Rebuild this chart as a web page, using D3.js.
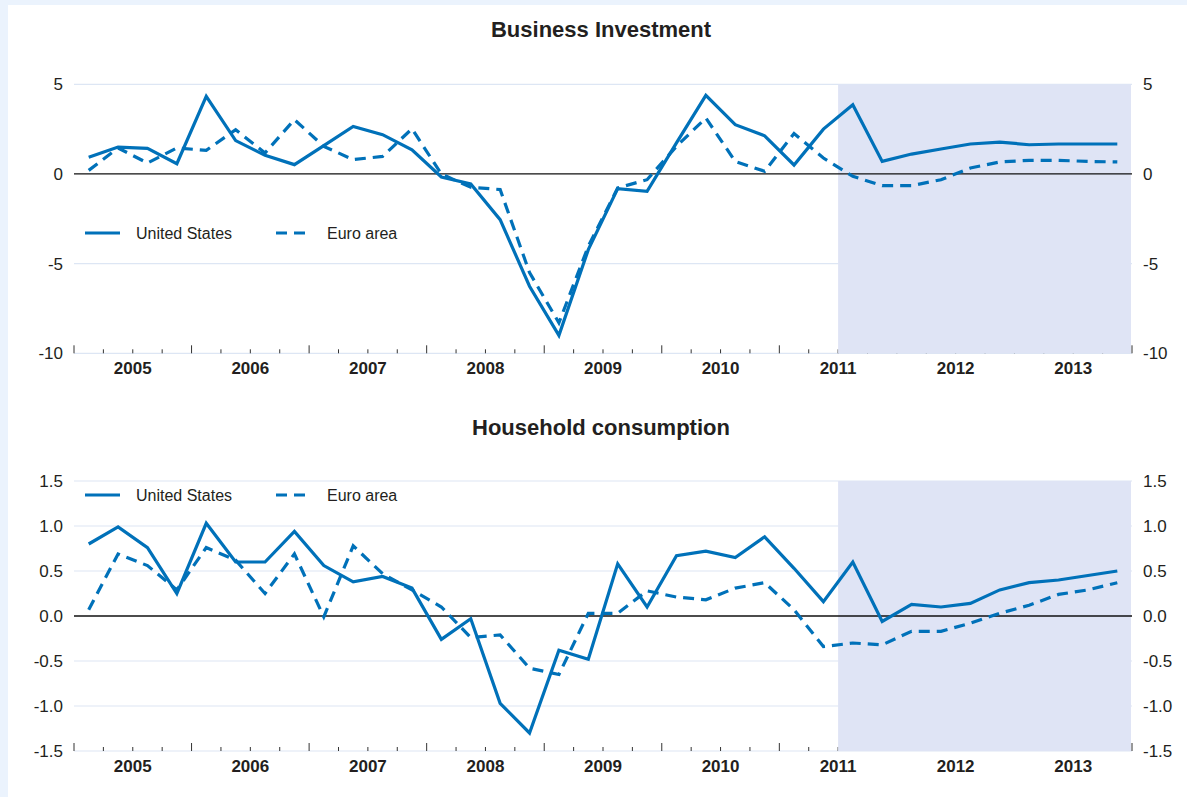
<!DOCTYPE html>
<html>
<head>
<meta charset="utf-8">
<script src="https://cdn.jsdelivr.net/npm/d3@7"></script>
<style>
  body { margin: 0; background: #ebf3fd; }
  svg { display: block; font-family: "Liberation Sans", Arial, sans-serif; }
</style>
</head>
<body>
<svg id="chart"></svg>
<script>
// Chart size
const width = 1187;
const height = 797;

// Quarterly data 2005Q1 - 2013Q4
const years = ["2005", "2006", "2007", "2008", "2009", "2010", "2011", "2012", "2013"];

const investUS = [0.93, 1.5, 1.43, 0.57, 4.33, 1.86, 1.04, 0.52, 1.58, 2.65, 2.19, 1.35,
  -0.17, -0.56, -2.55, -6.26, -9.0, -4.22, -0.82, -0.97, 1.73, 4.38, 2.75, 2.13,
  0.5, 2.5, 3.86, 0.7, 1.11, 1.39, 1.67, 1.78, 1.63, 1.67, 1.67, 1.67];
const investEA = [0.2, 1.45, 0.61, 1.45, 1.32, 2.47, 1.17, 3.03, 1.54, 0.8, 0.98, 2.52,
  0.0, -0.74, -0.87, -5.5, -8.3, -4.03, -0.78, -0.32, 1.54, 3.12, 0.7, 0.15,
  2.25, 0.89, -0.13, -0.65, -0.65, -0.32, 0.33, 0.67, 0.76, 0.76, 0.7, 0.67];

const consUS = [0.8, 0.99, 0.76, 0.25, 1.03, 0.6, 0.6, 0.94, 0.56, 0.38, 0.44, 0.31,
  -0.26, -0.03, -0.97, -1.3, -0.38, -0.48, 0.58, 0.1, 0.67, 0.72, 0.65, 0.88,
  0.53, 0.16, 0.6, -0.06, 0.13, 0.1, 0.14, 0.29, 0.37, 0.4, 0.45, 0.5];
const consEA = [0.07, 0.69, 0.56, 0.29, 0.76, 0.62, 0.25, 0.69, -0.01, 0.78, 0.47, 0.29,
  0.1, -0.24, -0.21, -0.58, -0.65, 0.03, 0.03, 0.28, 0.21, 0.18, 0.31, 0.37,
  0.07, -0.34, -0.3, -0.32, -0.17, -0.17, -0.08, 0.03, 0.12, 0.24, 0.29, 0.37];

const investTicks = [5, 0, -5, -10];
const consTicks = [1.5, 1.0, 0.5, 0.0, -0.5, -1.0, -1.5];
const seriesNames = ["United States", "Euro area"];
const forecastStart = 26; // projection shading starts mid-2011

const blue = "#0071b9";

const svg = d3.select("#chart")
    .attr("width", width)
    .attr("height", height);

// white panel with light blue frame on top and left
svg.append("rect")
    .attr("x", 8).attr("y", 5)
    .attr("width", width - 8).attr("height", height - 5)
    .attr("fill", "white");

const x = d3.scaleLinear().domain([0, 36]).range([74, 1132]);
const nQ = 36;

function drawPanel(cfg) {
    const y = d3.scaleLinear().domain(cfg.domain).range([cfg.bottom, cfg.top]);
    const g = svg.append("g");
    // plain hyphen instead of unicode minus
    const fmt = d => d3.format(cfg.fmt)(d).replace("\u2212", "-");

    // title
    g.append("text")
        .attr("x", 601).attr("y", cfg.titleY)
        .attr("text-anchor", "middle")
        .attr("font-size", 22).attr("font-weight", "bold")
        .attr("fill", "#231f20")
        .text(cfg.title);

    // grid lines
    g.selectAll(".grid")
        .data(cfg.ticks.filter(d => d !== 0))
        .enter().append("line")
        .attr("x1", x(0)).attr("x2", x(nQ))
        .attr("y1", d => y(d)).attr("y2", d => y(d))
        .attr("stroke", "#dde6f4").attr("stroke-width", 1.2);

    // quarter ticks on the bottom axis
    g.selectAll(".qtick")
        .data(d3.range(0, nQ + 1))
        .enter().append("line")
        .attr("x1", d => x(d)).attr("x2", d => x(d))
        .attr("y1", d => d % 4 === 0 ? cfg.bottom - 8 : cfg.bottom - 4)
        .attr("y2", cfg.bottom)
        .attr("stroke", "#333").attr("stroke-width", 1);

    // projection shading
    g.append("rect")
        .attr("x", x(forecastStart)).attr("y", y(cfg.domain[1]))
        .attr("width", x(nQ) - x(forecastStart) - 1)
        .attr("height", y(cfg.domain[0]) - y(cfg.domain[1]))
        .attr("fill", "#dfe4f5");

    // zero line
    g.append("line")
        .attr("x1", x(0)).attr("x2", x(nQ))
        .attr("y1", y(0)).attr("y2", y(0))
        .attr("stroke", "#111").attr("stroke-width", 1.3);

    // y labels left and right
    g.selectAll(".ylabL")
        .data(cfg.ticks)
        .enter().append("text")
        .attr("x", 63).attr("y", d => y(d))
        .attr("dy", "0.35em")
        .attr("text-anchor", "end")
        .attr("font-size", 17).attr("fill", "#231f20")
        .text(fmt);
    g.selectAll(".ylabR")
        .data(cfg.ticks)
        .enter().append("text")
        .attr("x", 1143).attr("y", d => y(d))
        .attr("dy", "0.35em")
        .attr("text-anchor", "start")
        .attr("font-size", 17).attr("fill", "#231f20")
        .text(fmt);

    // year labels
    g.selectAll(".year")
        .data(years)
        .enter().append("text")
        .attr("x", (d, i) => x(i * 4 + 2))
        .attr("y", cfg.bottom + 21)
        .attr("text-anchor", "middle")
        .attr("font-size", 17).attr("font-weight", "bold")
        .attr("fill", "#231f20")
        .text(d => d);

    const line = d3.line()
        .x((d, i) => x(i + 0.5))
        .y(d => y(d));

    g.append("path")
        .datum(cfg.us)
        .attr("d", line)
        .attr("fill", "none")
        .attr("stroke", blue).attr("stroke-width", 3.2)
        .attr("stroke-linejoin", "miter");

    g.append("path")
        .datum(cfg.ea)
        .attr("d", line)
        .attr("fill", "none")
        .attr("stroke", blue).attr("stroke-width", 3.2)
        .attr("stroke-dasharray", "11,7");

    // legend
    const leg = g.append("g").attr("transform", "translate(0," + cfg.legendY + ")");
    seriesNames.forEach(function (name, i) {
        const lx = i === 0 ? 85 : 276;
        leg.append("line")
            .attr("x1", lx).attr("x2", lx + 35)
            .attr("stroke", blue).attr("stroke-width", 3.2)
            .attr("stroke-dasharray", i === 0 ? null : "11,7");
        leg.append("text")
            .attr("x", lx + 51).attr("dy", "0.35em")
            .attr("font-size", 16).attr("fill", "#231f20")
            .text(name);
    });
}

drawPanel({
    title: "Business Investment", titleY: 37,
    domain: [-10, 5], top: 84.3, bottom: 353.3,
    ticks: investTicks, fmt: "d",
    us: investUS, ea: investEA, legendY: 233
});

drawPanel({
    title: "Household consumption", titleY: 435,
    domain: [-1.5, 1.5], top: 481, bottom: 751,
    ticks: consTicks, fmt: ".1f",
    us: consUS, ea: consEA, legendY: 495
});
</script>
</body>
</html>
